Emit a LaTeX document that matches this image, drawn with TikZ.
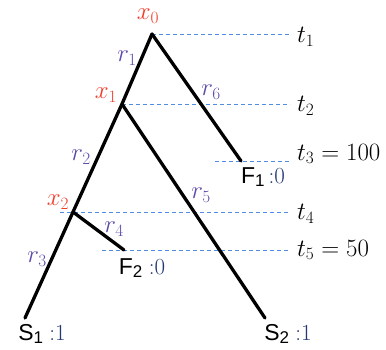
\documentclass[tikz,border=0pt]{standalone}
\usepackage{fontspec}
\newfontfamily\leaffont{Liberation Sans}
\usepackage{tikz}
\usetikzlibrary{positioning}

\definecolor{xred}{RGB}{240,60,40}
\definecolor{rpurple}{RGB}{95,75,170}
\definecolor{tblue}{RGB}{80,140,225}
\definecolor{vblue}{RGB}{35,55,115}

\newcommand{\leaf}[2]{{\leaffont #1\raisebox{-0.3ex}{\fontsize{17}{20}\selectfont #2}}}

\begin{document}
\begin{tikzpicture}[
    x=1pt, y=-1pt,
    font=\fontsize{23}{27}\selectfont,
    branch/.style={line width=3.3pt, line cap=round},
    level/.style={dashed, dash pattern=on 4pt off 3pt, color=tblue, line width=0.9pt},
    vlabel/.style={text=xred, inner sep=1pt},
    rlabel/.style={text=rpurple, inner sep=1pt},
    tlabel/.style={anchor=west, inner sep=1pt},
    leaflabel/.style={inner sep=1pt}
]
\useasboundingbox (0,0) rectangle (386,349);

% vertices and tips
\coordinate (x0) at (152,34);
\coordinate (x1) at (122,104);
\coordinate (x2) at (73,212);
\coordinate (s1) at (25,318);
\coordinate (s2) at (265,318);
\coordinate (f1) at (241,161);
\coordinate (f2) at (124,250);

% level lines
\coordinate (e1) at (290,34);
\coordinate (e2) at (290,104);
\coordinate (b3) at (215,161);
\coordinate (e3) at (290,161);
\coordinate (b4) at (60,212);
\coordinate (e4) at (290,212);
\coordinate (b5) at (102,250);
\coordinate (e5) at (290,250);

\draw[level] (x0) -- (e1);
\draw[level] (x1) -- (e2);
\draw[level] (b3) -- (e3);
\draw[level] (b4) -- (e4);
\draw[level] (b5) -- (e5);

% branches
\draw[branch] (x0) -- (x1) -- (x2) -- (s1);
\draw[branch] (x0) -- (f1);
\draw[branch] (x1) -- (s2);
\draw[branch] (x2) -- (f2);

% vertex labels
\node[vlabel] (lx0) at (148,16) {$x_0$};
\node[vlabel] (lx1) at (106,95) {$x_1$};
\node[vlabel] (lx2) at (58,202) {$x_2$};

% branch labels
\node[rlabel] (lr1) at (127,58) {$r_1$};
\node[rlabel] (lr6) at (211,92) {$r_6$};
\node[rlabel] (lr2) at (81,157) {$r_2$};
\node[rlabel] (lr5) at (201,195) {$r_5$};
\node[rlabel] (lr4) at (114,229) {$r_4$};
\node[rlabel] (lr3) at (37,259) {$r_3$};

% time labels
\node[tlabel] (t1) at (296,37) {$t_1$};
\node[tlabel] (t2) at (296,106) {$t_2$};
\node[tlabel] (t3) at (296,154) {$t_3 = 100$};
\node[tlabel] (t4) at (296,214) {$t_4$};
\node[tlabel] (t5) at (296,250) {$t_5 = 50$};

% tip labels
\node[leaflabel] (lf1) at (263,177) {\leaf{F}{1}\,\textcolor{vblue}{:0}};
\node[leaflabel] (lf2) at (142,268) {\leaf{F}{2}\;\textcolor{vblue}{:0}};
\node[leaflabel] (ls1) at (42,334) {\leaf{S}{1}\;\textcolor{vblue}{:1}};
\node[leaflabel] (ls2) at (288,334) {\leaf{S}{2}\;\textcolor{vblue}{:1}};
\end{tikzpicture}
\end{document}
